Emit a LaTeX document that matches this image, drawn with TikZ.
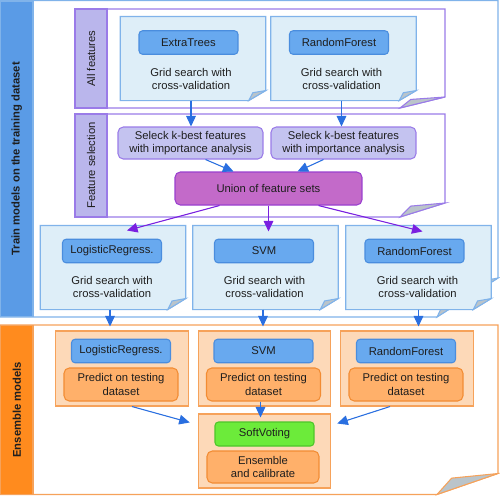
\documentclass[tikz,border=0pt]{standalone}
\usepackage{fontspec}
\setmainfont{Liberation Sans}
\usetikzlibrary{arrows.meta,positioning,calc}
\definecolor{plInk}{HTML}{1E1E1E}
\definecolor{plBlueBand}{HTML}{5A9BE6}
\definecolor{plBlueEdge}{HTML}{80B3EA}
\definecolor{plPale}{HTML}{DEEEF8}
\definecolor{plBtn}{HTML}{68A9EF}
\definecolor{plBtnEdge}{HTML}{4A8DDE}
\definecolor{plPurpleEdge}{HTML}{9A7BE8}
\definecolor{plLavBand}{HTML}{BAB6EC}
\definecolor{plLav}{HTML}{C4C3F0}
\definecolor{plUnion}{HTML}{C36AC9}
\definecolor{plUnionEdge}{HTML}{9A3FCF}
\definecolor{plArrP}{HTML}{7A1FE0}
\definecolor{plArrB}{HTML}{2A6FE0}
\definecolor{plOrangeBand}{HTML}{FF8B1E}
\definecolor{plOrangeEdge}{HTML}{F6A25A}
\definecolor{plPeach}{HTML}{FDD9B8}
\definecolor{plPredict}{HTML}{FFB06A}
\definecolor{plPredEdge}{HTML}{F28C33}
\definecolor{plGreen}{HTML}{6CEB3A}
\definecolor{plGreenEdge}{HTML}{4CC52A}
\definecolor{plFold}{HTML}{BAC4CA}
\tikzset{
  txt/.style={font=\fontsize{6.4}{7.6}\selectfont, text=plInk, align=center, inner sep=0pt},
  bandB/.style={txt, font=\fontsize{6.4}{7.6}\selectfont\bfseries, rotate=90, fill=plBlueBand, draw=plBlueEdge},
  bandO/.style={txt, font=\fontsize{6.4}{7.6}\selectfont\bfseries, rotate=90, fill=plOrangeBand, draw=plOrangeEdge},
  bandP/.style={txt, rotate=90, fill=plLavBand, draw=plPurpleEdge},
  frameB/.style={fill=white, draw=plBlueEdge},
  frameO/.style={fill=white, draw=plOrangeEdge},
  frameP/.style={fill=white, draw=plPurpleEdge},
  gsfold/.style={fill=plPale, draw=plBlueEdge},
  gsbox/.style={draw=none, inner sep=0pt, minimum height=1.66cm},
  btn/.style={txt, fill=plBtn, draw=plBtnEdge, rounded corners=2pt, minimum width=1.98cm, minimum height=0.47cm},
  selbox/.style={txt, fill=plLav, draw=plPurpleEdge, rounded corners=3pt, minimum width=2.9cm, minimum height=0.64cm},
  unionbox/.style={txt, fill=plUnion, draw=plUnionEdge, rounded corners=3pt, minimum width=3.74cm, minimum height=0.66cm},
  ensbox/.style={fill=plPeach, draw=plOrangeEdge, inner sep=0pt, minimum width=2.65cm, minimum height=1.5cm},
  predbox/.style={txt, fill=plPredict, draw=plPredEdge, rounded corners=3pt, minimum width=2.28cm, minimum height=0.66cm},
  votebtn/.style={txt, fill=plGreen, draw=plGreenEdge, rounded corners=2pt, minimum width=1.98cm, minimum height=0.48cm},
  arrB/.style={-{Triangle[length=6pt,width=5.5pt]}, draw=plArrB, fill=plArrB},
  arrP/.style={-{Triangle[length=6pt,width=5.5pt]}, draw=plArrP, fill=plArrP},
}
% folded-corner box: style, NW corner, SE corner, fold width, fold height (px)
\newcommand{\foldbox}[5]{%
  \path #2 coordinate (fbA) #3 coordinate (fbB);
  \draw[#1] (fbA) -- (fbA -| fbB) -- ($(fbB)+(0,-#5)$) -- ($(fbB)+(-#4,0)$) -- (fbA |- fbB) -- cycle;
  \filldraw[#1, fill=plFold] ($(fbB)+(0,-#5)$) -- ($(fbB)+(-#4,0)$) -- ($(fbB)+(-0.76*#4,-0.78*#5)$) -- cycle;
}

\begin{document}
\begin{tikzpicture}[x=0.02cm,y=-0.02cm,line width=0.6pt]
    \useasboundingbox (0,0) rectangle (500,495);
    % outer frames
    \foldbox{frameB}{(0.5,0.5)}{(498,317)}{61}{39}
    \foldbox{frameO}{(0.5,325)}{(498,494.5)}{61}{21}
    \node[bandB, minimum width=6.31cm, minimum height=0.65cm] (trainlbl) at (16.75,158.75) {Train models on the training dataset};
    \node[bandO, minimum width=3.39cm, minimum height=0.65cm] (enslbl) at (16.75,409.75) {Ensemble models};
    % feature frames
    \foldbox{frameP}{(75,9)}{(445,108)}{45}{11}
    \foldbox{frameP}{(75,114)}{(445,217)}{45}{14}
    \node[bandP, minimum width=1.98cm, minimum height=0.64cm] (alllbl) at (91,58.5) {All features};
    \node[bandP, minimum width=2.06cm, minimum height=0.64cm] (sellbl) at (91,165.5) {Feature selection};
    % all features
    \foreach \nm/\cx/\ttl in {ET/193/ExtraTrees, RFa/343.5/RandomForest} {
        \node[gsbox, minimum width=2.89cm] (gs\nm) at (\cx,58.5) {};
        \foldbox{gsfold}{(gs\nm.north west)}{(gs\nm.south east)}{17}{10}
        \node[btn] (btn\nm) at (\cx-4.5,42.5) {\ttl};
        \node[txt] (txt\nm) at (\cx-2,79) {Grid search with\\cross-validation};
    }
    % feature selection
    \node[selbox] (selET) at (190.5,143) {Seleck k-best features\\with importance analysis};
    \node[selbox] (selRFa) at (343.5,143) {Seleck k-best features\\with importance analysis};
    \node[unionbox] (union) at (268.5,188.5) {Union of feature sets};
    % models
    \foreach \nm/\cx/\bx/\ttl in {LR/113/112/LogisticRegress., SVM/265.5/264/SVM, RFb/418.5/414.5/RandomForest} {
        \node[gsbox, minimum width=2.89cm] (gs\nm) at (\cx,267.5) {};
        \foldbox{gsfold}{(gs\nm.north west)}{(gs\nm.south east)}{18}{11}
        \node[btn] (btn\nm) at (\bx,251) {\ttl};
        \node[txt] (txt\nm) at (\cx-1,287) {Grid search with\\cross-validation};
    }
    % ensemble
    \foreach \nm/\cx/\ttl in {LR/122/LogisticRegress., SVM/264.5/SVM, RF/407/RandomForest} {
        \node[ensbox] (en\nm) at (\cx,368.5) {};
        \node[btn] (eb\nm) at (\cx-1,351) {\ttl};
        \node[predbox] (pr\nm) at (\cx-1,384.5) {Predict on testing\\dataset};
    }
    \node[ensbox, minimum height=1.48cm] (vote) at (264.5,451) {};
    \node[votebtn] (vbtn) at (264.5,434) {SoftVoting};
    \node[predbox, minimum width=2.24cm, minimum height=0.64cm] (calib) at (263,467) {Ensemble\\and calibrate};
    % connectors
    \draw[arrB] ($(gsET.south)+(-2,0)$) -- ($(gsET.south |- selET.north)+(-2,0)$);
    \draw[arrB] ($(gsRFa.south)+(-2,0)$) -- ($(gsRFa.south |- selRFa.north)+(-2,0)$);
    \draw[arrB] ($(selET.south)+(15,0)$) -- ($(union.north)+(-35,0)$);
    \draw[arrB] ($(selRFa.south)+(-20,0)$) -- ($(union.north)+(29,0)$);
    \draw[arrP] ($(union.south)+(-49,0)$) -- ($(gsLR.north)+(14,5)$);
    \draw[arrP] (union.south) -- ($(union.south |- gsSVM.north)+(0,6)$);
    \draw[arrP] ($(union.south)+(50,0)$) -- ($(gsRFb.north)+(4,6)$);
    \draw[arrB] ($(gsLR.south)+(-3,0)$) -- ($(gsLR.south |- enLR.north)+(-3,-4)$);
    \draw[arrB] ($(gsSVM.south)+(-2.5,0)$) -- ($(gsSVM.south |- enSVM.north)+(-2.5,-4)$);
    \draw[arrB] (gsRFb.south) -- ($(gsRFb.south |- enRF.north)+(0,-4)$);
    \draw[arrB] ($(enLR.south)+(10,0)$) -- ($(vote.north west)+(-8,9)$);
    \draw[arrB] ($(prSVM.south)+(-3,0)$) -- ($(prSVM.south |- vote.north)+(-3,4)$);
    \draw[arrB] ($(enRF.south)+(-17,0)$) -- ($(vote.north east)+(6,10)$);
\end{tikzpicture}
\end{document}
